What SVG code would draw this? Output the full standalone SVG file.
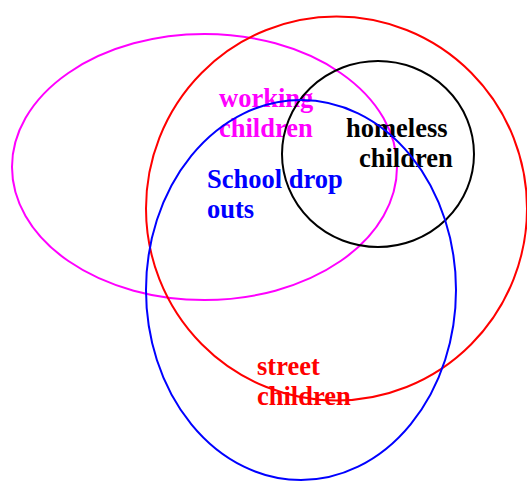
<svg xmlns="http://www.w3.org/2000/svg" width="527" height="481" viewBox="0 0 527 481">
<style>
.s{fill:none;stroke-width:2}
text{font-family:"Liberation Serif","Times New Roman",serif;font-weight:bold;font-size:26.5px}
</style>
<rect width="527" height="481" fill="#fff"/>
<g id="working">
<ellipse class="s" cx="204.5" cy="167" rx="192.5" ry="133" stroke="#ff00ff"/>
<text fill="#ff00ff"><tspan x="219" y="107">working</tspan><tspan x="219" y="137">children</tspan></text>
</g>
<g id="street">
<ellipse class="s" cx="336.5" cy="208.5" rx="190.5" ry="192" stroke="#ff0000"/>
<text fill="#ff0000"><tspan x="257" y="375">street</tspan><tspan x="257" y="405">children</tspan></text>
</g>
<g id="homeless">
<ellipse class="s" cx="378" cy="154" rx="96" ry="93" stroke="#000"/>
<text fill="#000"><tspan x="346" y="137">homeless</tspan><tspan x="359" y="167">children</tspan></text>
</g>
<g id="dropouts">
<ellipse class="s" cx="301" cy="290" rx="155" ry="190" stroke="#0000ff"/>
<text fill="#0000ff"><tspan x="207" y="188">School drop</tspan><tspan x="207" y="218">outs</tspan></text>
</g>
<g id="connectors"/>
</svg>
